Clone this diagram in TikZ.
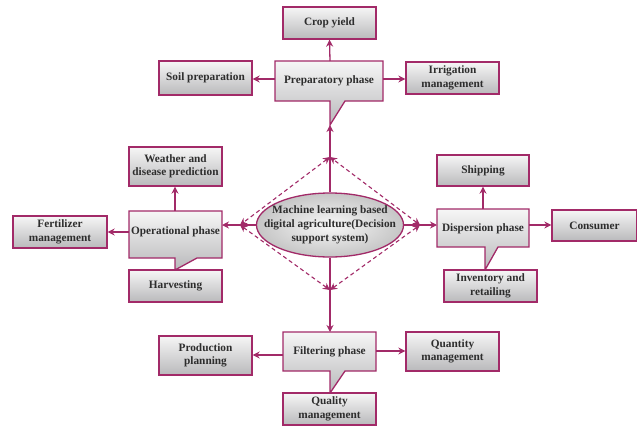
\documentclass[tikz,border=0pt]{standalone}
\usepackage{fontspec}
\setmainfont{Liberation Serif}
\usetikzlibrary{arrows.meta,shapes.geometric}
\definecolor{mc}{RGB}{162,42,104}
\definecolor{tc}{RGB}{45,45,45}
\definecolor{gtop}{RGB}{246,246,246}
\definecolor{gbot}{RGB}{185,185,187}
\tikzset{
  bx/.style={draw=mc,line width=1.3pt,top color=gtop,bottom color=gbot,inner sep=0pt,
    font=\bfseries\fontsize{11.3}{13.5}\selectfont,text=tc,align=center},
  cshape/.style={draw=mc,line width=1.3pt,top color=gtop,bottom color=gbot,line join=miter},
  ctext/.style={font=\bfseries\fontsize{11.3}{13.5}\selectfont,text=tc,align=center,inner sep=0pt},
  arr/.style={draw=mc,line width=1.3pt,-{Stealth[length=7pt,width=7pt]}},
  darr/.style={draw=mc,line width=1.1pt,dash pattern=on 4pt off 3pt,{Stealth[length=7pt,width=7pt]}-{Stealth[length=7pt,width=7pt]}},
}
\newcommand{\bxat}[5]{\node[bx,minimum width=#4pt-#2pt,minimum height=#5pt-#3pt] (#1) at ({(#2+#4)/2},{(#3+#5)/2})}
\begin{document}
\begin{tikzpicture}[x=1pt,y=-1pt]
\useasboundingbox (0,0) rectangle (637,426);
% center ellipse
\node[ellipse,draw=mc,line width=1.3pt,inner color=gray!6,outer color=gray!45,minimum width=147pt,minimum height=64pt,
  font=\bfseries\fontsize{11.3}{14}\selectfont,text=tc,align=center,inner xsep=-14pt,inner ysep=-2pt] (ml) at (330,225)
  {Machine learning based\\digital agriculture(Decision\\support system)};
% diamond points
\coordinate (dT) at (330,157);
\coordinate (dL) at (240,225);
\coordinate (dB) at (330,290);
\coordinate (dR) at (420,225);
\draw[darr] (dT) -- (dL);
\draw[darr] (dL) -- (dB);
\draw[darr] (dB) -- (dR);
\draw[darr] (dR) -- (dT);
% Preparatory callout
\path[cshape] (275,61) -- (383,61) -- (383,101) -- (345,101) -- (330,125) -- (330,101) -- (275,101) -- cycle;
\node[ctext] (prep) at (329,81) {Preparatory phase};
\coordinate (preptip) at (330,125);
\bxat{crop}{283}{7}{376}{39} {Crop yield};
\bxat{soil}{159}{61}{252}{95} {Soil preparation};
\bxat{irr}{406}{62}{499}{94} {Irrigation\\management};
\coordinate (prepT) at (330,61);
\coordinate (prepL) at (275,79);
\coordinate (prepR) at (383,79);
\draw[arr] (prepT) -- (crop.south);
\draw[arr] (prepL) -- (prepL -| soil.east);
\draw[arr] (prepR) -- (prepR -| irr.west);
% Operational callout
\path[cshape] (129,211) -- (222,211) -- (222,258) -- (197,258) -- (175,270) -- (175,258) -- (129,258) -- cycle;
\node[ctext] (oper) at (175.5,232) {Operational phase};
\bxat{weather}{129}{147}{222}{186} {Weather and\\disease prediction};
\bxat{fert}{13}{216}{107}{248} {Fertilizer\\management};
\bxat{harv}{129}{270}{222}{302} {Harvesting};
\coordinate (operT) at (175,211);
\coordinate (operL) at (129,232);
\coordinate (operR) at (222,225);
\draw[arr] (operT) -- (operT |- weather.south);
\draw[arr] (operL) -- (operL -| fert.east);
% Dispersion callout
\path[cshape] (437,209) -- (529,209) -- (529,247) -- (498,247) -- (485,270) -- (485,247) -- (437,247) -- cycle;
\node[ctext] (disp) at (483,229) {Dispersion phase};
\bxat{ship}{437}{155}{529}{186} {Shipping};
\bxat{inv}{444}{270}{537}{302} {Inventory and\\retailing};
\bxat{cons}{552}{210}{637}{241} {Consumer};
\coordinate (dispT) at (483,209);
\coordinate (dispL) at (437,225);
\coordinate (dispR) at (529,225);
\draw[arr] (dispT) -- (dispT |- ship.south);
\draw[arr] (dispR) -- (dispR -| cons.west);
% Filtering callout
\path[cshape] (283,332) -- (376,332) -- (376,371) -- (345,371) -- (330,393) -- (330,371) -- (283,371) -- cycle;
\node[ctext] (filt) at (329.5,352) {Filtering phase};
\bxat{prod}{159}{336}{252}{375} {Production\\planning};
\bxat{qty}{406}{332}{499}{371} {Quantity\\management};
\bxat{qual}{283}{393}{376}{425} {Quality\\management};
\coordinate (filtT) at (330,332);
\coordinate (filtL) at (283,355);
\coordinate (filtR) at (376,351);
\draw[arr] (filtL) -- (filtL -| prod.east);
\draw[arr] (filtR) -- (filtR -| qty.west);
% center connectors
\draw[arr] (ml.north) -- (preptip);
\draw[arr] (ml.south) -- (filtT);
\draw[arr] (ml.west) -- (operR);
\draw[arr] (ml.east) -- (dispL);
\end{tikzpicture}
\end{document}
